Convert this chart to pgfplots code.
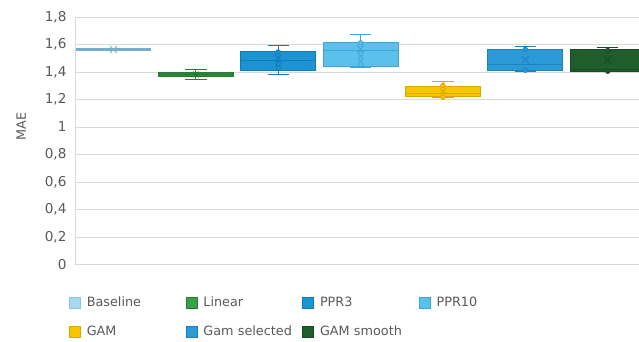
\documentclass[border=0pt]{standalone}
\usepackage{pgfplots}
\pgfplotsset{compat=1.18}
\usepgfplotslibrary{statistics}
\usepackage{fontspec}
\setmainfont{DejaVu Sans}

\definecolor{txt}{HTML}{595959}
\definecolor{gridc}{HTML}{D9D9D9}
\definecolor{baseF}{HTML}{86BCD8}\definecolor{baseE}{HTML}{78AECB}
\definecolor{baseL}{HTML}{A6D8F0}\definecolor{baseLE}{HTML}{8CC4E0}
\definecolor{linF}{HTML}{2E8B3C}\definecolor{linE}{HTML}{287A34}
\definecolor{linL}{HTML}{3A9E45}
\definecolor{p3F}{HTML}{1B94D4}\definecolor{p3E}{HTML}{1479B4}
\definecolor{p10F}{HTML}{5CC0EC}\definecolor{p10E}{HTML}{3FA5D6}
\definecolor{gamF}{HTML}{F7C400}\definecolor{gamE}{HTML}{DCA800}
\definecolor{gsF}{HTML}{2A9BD7}\definecolor{gsE}{HTML}{1E82BC}
\definecolor{smF}{HTML}{1F5D2B}\definecolor{smE}{HTML}{184B22}

% one box: #1 = position, #2 = fill, #3 = edge, #4..#8 = whisker/quartile/median values
\newcommand{\maebox}[8]{%
  \addplot[boxplot prepared={draw position=#1, lower whisker=#4, lower quartile=#5,
      median=#6, upper quartile=#7, upper whisker=#8, box extend=0.91, whisker extend=0.26},
    fill=#2, draw=#3, line width=0.9pt, forget plot] coordinates {};}

\begin{document}
\begin{tikzpicture}
\begin{axis}[
  scale only axis, width=564pt, height=247.5pt,
  xmin=-0.467, xmax=6.38, ymin=0, ymax=1.8,
  boxplot/draw direction=y,
  ytick={0,0.2,...,1.8}, xtick=\empty,
  ymajorgrids, major grid style={gridc, line width=0.8pt},
  axis x line*=bottom, axis y line*=left,
  axis line style={gridc, line width=0.8pt, -},
  major tick length=0pt,
  yticklabel style={text=txt, font=\fontsize{13.6}{16}\selectfont, xshift=-5pt},
  /pgf/number format/.cd, use comma, fixed, precision=1, assume math mode=true,
  /pgfplots/.cd,
  ylabel={MAE}, ylabel style={text=txt, font=\fontsize{12.8}{15}\selectfont,
    at={(axis description cs:-0.0955,0.558)}, anchor=center},
  legend image code/.code={\draw[#1, line width=0.6pt] (0pt,-5.5pt) rectangle (11pt,5.5pt);},
  legend columns=4,
  legend style={draw=none, fill=none, at={(0,0)}, anchor=north west,
    xshift=-9pt, yshift=-28pt, text=txt, font=\fontsize{12.8}{15}\selectfont,
    row sep=14pt,
    /tikz/every odd column/.append style={inner xsep=1pt, column sep=4pt},
    /tikz/every even column/.append style={text width=97pt, align=left, inner xsep=2pt}},
]
% boxes
\maebox{0}{baseF}{baseE}{1.556}{1.559}{1.564}{1.570}{1.573}
\maebox{1}{linF}{linE}{1.348}{1.366}{1.380}{1.394}{1.416}
\maebox{2}{p3F}{p3E}{1.380}{1.413}{1.486}{1.547}{1.593}
\maebox{3}{p10F}{p10E}{1.431}{1.440}{1.556}{1.612}{1.675}
\maebox{4}{gamF}{gamE}{1.212}{1.221}{1.245}{1.297}{1.333}
\maebox{5}{gsF}{gsE}{1.405}{1.408}{1.455}{1.567}{1.583}
\maebox{6}{smF}{smE}{1.402}{1.406}{1.420}{1.567}{1.580}

% means
\addplot[only marks, mark=x, mark size=5pt, draw=baseE, line width=0.9pt, forget plot] coordinates {(0,1.564)};
\addplot[only marks, mark=x, mark size=4pt, draw=linE, line width=0.9pt, forget plot] coordinates {(1,1.382)};
\addplot[only marks, mark=x, mark size=5pt, draw=p3E, line width=0.9pt, forget plot] coordinates {(2,1.500)};
\addplot[only marks, mark=x, mark size=5pt, draw=p10E, line width=0.9pt, forget plot] coordinates {(3,1.569)};
\addplot[only marks, mark=x, mark size=4pt, draw=gamE, line width=0.9pt, forget plot] coordinates {(4,1.260)};
\addplot[only marks, mark=x, mark size=5pt, draw=gsE, line width=0.9pt, forget plot] coordinates {(5,1.490)};
\addplot[only marks, mark=x, mark size=5pt, draw=smE, line width=0.9pt, forget plot] coordinates {(6,1.490)};

% inner points
\addplot[only marks, mark=*, mark size=2.3pt, mark options={draw=p3E, fill=p3F, line width=0.8pt}, forget plot]
  coordinates {(2,1.545) (2,1.460) (2,1.430)};
\addplot[only marks, mark=*, mark size=2.3pt, mark options={draw=p10E, fill=p10F, line width=0.8pt}, forget plot]
  coordinates {(3,1.612) (3,1.535) (3,1.496) (3,1.455)};
\addplot[only marks, mark=*, mark size=2.3pt, mark options={draw=gamE, fill=gamF, line width=0.8pt}, forget plot]
  coordinates {(4,1.302) (4,1.217)};
\addplot[only marks, mark=*, mark size=2.3pt, mark options={draw=gsE, fill=gsF, line width=0.8pt}, forget plot]
  coordinates {(5,1.564) (5,1.413)};
\addplot[only marks, mark=*, mark size=2.3pt, mark options={draw=smE, fill=smF, line width=0.8pt}, forget plot]
  coordinates {(6,1.556) (6,1.406)};

% legend
\addlegendimage{fill=baseL, draw=baseLE}\addlegendentry{Baseline}
\addlegendimage{fill=linL, draw=linE}\addlegendentry{Linear}
\addlegendimage{fill=p3F, draw=p3E}\addlegendentry{PPR3}
\addlegendimage{fill=p10F, draw=p10E}\addlegendentry{PPR10}
\addlegendimage{fill=gamF, draw=gamE}\addlegendentry{GAM}
\addlegendimage{fill=gsF, draw=gsE}\addlegendentry{Gam selected}
\addlegendimage{fill=smF, draw=smE}\addlegendentry{GAM smooth}
\end{axis}
\pgfresetboundingbox
\path[use as bounding box] (-75pt,-77pt) rectangle (564pt,264.5pt);
\end{tikzpicture}
\end{document}
